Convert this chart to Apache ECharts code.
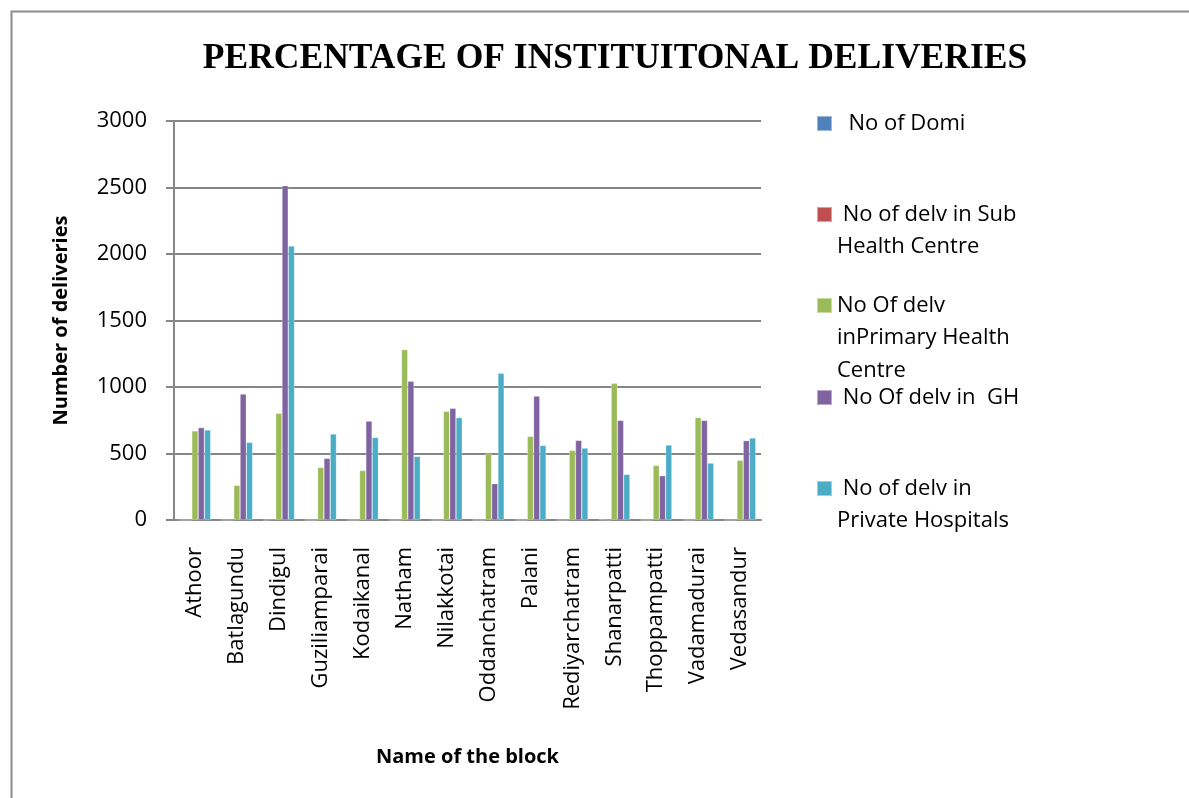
<!DOCTYPE html>
<html>
<head>
<meta charset="utf-8">
<title>Percentage of Institutional Deliveries</title>
<script src="https://cdn.jsdelivr.net/npm/echarts@6/dist/echarts.min.js"></script>
<style>
  html, body { margin: 0; padding: 0; background: #ffffff; }
  #chart { width: 1189px; height: 798px; }
</style>
</head>
<body>
<div id="chart"></div>
<script>
// Blocks of the district
const blocks = ['Athoor', 'Batlagundu', 'Dindigul', 'Guziliamparai', 'Kodaikanal', 'Natham', 'Nilakkotai',
  'Oddanchatram', 'Palani', 'Rediyarchatram', 'Shanarpatti', 'Thoppampatti', 'Vadamadurai', 'Vedasandur'];

// Deliveries by place, per block
const domiciliary = [0, 0, 0, 0, 0, 0, 0, 0, 0, 0, 3, 0, 0, 0];
const subHealthCentre = [0, 0, 10, 0, 0, 0, 0, 0, 0, 0, 0, 0, 0, 0];
const primaryHealthCentre = [670, 261, 802, 396, 373, 1281, 817, 499, 629, 524, 1028, 411, 770, 449];
const governmentHospital = [695, 947, 2514, 464, 744, 1043, 840, 273, 932, 599, 749, 333, 749, 597];
const privateHospitals = [677, 584, 2060, 647, 621, 478, 770, 1103, 561, 541, 343, 564, 428, 617];

// Legend labels (line breaks as laid out in the legend)
const seriesNames = [
  '  No of Domi',
  ' No of delv in Sub\nHealth Centre',
  'No Of delv\ninPrimary Health\nCentre',
  ' No Of delv in  GH',
  ' No of delv in\nPrivate Hospitals'
];
const seriesData = [domiciliary, subHealthCentre, primaryHealthCentre, governmentHospital, privateHospitals];
const seriesColors = ['#4F81BD', '#C0504D', '#9BBB59', '#8064A2', '#4BACC6'];

const yTicks = { min: 0, max: 3000, interval: 500 };

const FONT = '"Open Sans", "Liberation Sans", sans-serif';
const LINE_H = 32.5;
const legendCenters = [123.5, 214.5, 305.5, 397.5, 488.5];

// One legend block per series so each entry can sit at its own height.
// Blank lines are put in front of multi-line labels so that, with the text block
// centred on the key, the key square lines up with the first real line.
const legends = seriesNames.map((name, i) => {
  const lines = name.split('\n').length;
  const boxH = (2 * lines - 1) * LINE_H;
  return {
    data: [name],
    left: 816,
    top: legendCenters[i] - boxH / 2,
    orient: 'vertical',
    padding: 0,
    icon: 'rect',
    itemWidth: 15,
    itemHeight: 15,
    selectedMode: false,
    formatter: (n) => ' \n'.repeat(n.split('\n').length - 1) + n,
    textStyle: {
      fontFamily: FONT,
      fontSize: 22,
      color: '#000',
      lineHeight: LINE_H
    }
  };
});

const chart = echarts.init(document.getElementById('chart'), null, { renderer: 'canvas' });

chart.setOption({
  animation: false,
  backgroundColor: '#ffffff',
  title: {
    text: 'PERCENTAGE OF INSTITUITONAL DELIVERIES',
    left: 610,
    top: 36,
    textAlign: 'center',
    textStyle: {
      fontFamily: '"Liberation Serif", "Times New Roman", serif',
      fontWeight: 'bold',
      fontSize: 35.5,
      color: '#000'
    }
  },
  legend: legends,
  grid: { left: 174, right: 428, top: 121, bottom: 278, containLabel: false },
  xAxis: {
    type: 'category',
    data: blocks,
    name: 'Name of the block',
    nameLocation: 'middle',
    nameGap: 227,
    nameTextStyle: { fontFamily: FONT, fontWeight: 'bold', fontSize: 20, color: '#000' },
    axisLine: { lineStyle: { color: '#868686', width: 2 } },
    axisTick: { show: false },
    axisLabel: { rotate: 90, interval: 0, margin: 27, fontFamily: FONT, fontSize: 22, color: '#000' }
  },
  yAxis: {
    type: 'value',
    min: yTicks.min,
    max: yTicks.max,
    interval: yTicks.interval,
    name: 'Number of deliveries',
    nameLocation: 'middle',
    nameGap: 103,
    nameRotate: 90,
    nameTextStyle: { fontFamily: FONT, fontWeight: 'bold', fontSize: 20, color: '#000' },
    axisLine: { show: true, lineStyle: { color: '#868686', width: 2 } },
    axisTick: { show: true, inside: false, length: 8, lineStyle: { color: '#868686', width: 2 } },
    axisLabel: { margin: 27, fontFamily: FONT, fontSize: 22, color: '#000', formatter: (v) => String(v) },
    splitLine: { show: true, lineStyle: { color: '#868686', width: 2 } }
  },
  series: seriesNames.map((name, i) => ({
    name: name,
    type: 'bar',
    data: seriesData[i],
    barGap: '0%',
    barCategoryGap: '25%',
    itemStyle: { color: seriesColors[i], borderColor: 'rgba(255,255,255,0.45)', borderWidth: 0.6 }
  })),
  graphic: [{
    type: 'rect',
    left: 9,
    top: 9,
    shape: { x: 0, y: 0, width: 1200, height: 800 },
    style: { fill: 'none', stroke: '#8c8c8c', lineWidth: 2 },
    silent: true,
    z: -1
  }]
});
</script>
</body>
</html>
